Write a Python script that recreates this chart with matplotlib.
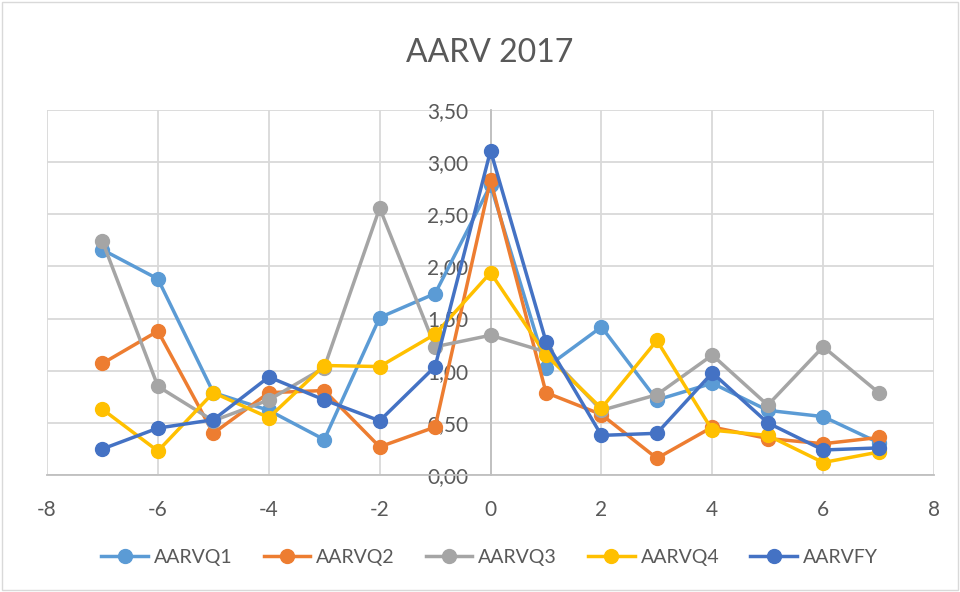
import numpy as np
import matplotlib
matplotlib.use("Agg")
import matplotlib.pyplot as plt
from matplotlib.patches import Rectangle
from matplotlib.ticker import FuncFormatter, MultipleLocator

plt.rcParams["font.family"] = ["Lato", "DejaVu Sans"]
plt.rcParams["axes.unicode_minus"] = False

days = list(range(-7, 8))
aarv_q1 = [2.16, 1.88, 0.79, 0.62, 0.34, 1.51, 1.74, 2.78, 1.03, 1.42, 0.72, 0.88, 0.62, 0.56, 0.31]
aarv_q2 = [1.07, 1.38, 0.40, 0.79, 0.81, 0.27, 0.46, 2.83, 0.79, 0.58, 0.16, 0.46, 0.35, 0.30, 0.36]
aarv_q3 = [2.24, 0.85, 0.52, 0.72, 1.03, 2.56, 1.23, 1.34, 1.18, 0.62, 0.77, 1.15, 0.67, 1.23, 0.79]
aarv_q4 = [0.63, 0.23, 0.79, 0.55, 1.05, 1.04, 1.35, 1.94, 1.15, 0.64, 1.29, 0.43, 0.38, 0.12, 0.22]
aarv_fy = [0.25, 0.45, 0.53, 0.94, 0.72, 0.52, 1.04, 3.11, 1.28, 0.38, 0.40, 0.98, 0.50, 0.24, 0.26]

series = [
    ("AARVQ1", aarv_q1, "#5B9BD5"),
    ("AARVQ2", aarv_q2, "#ED7D31"),
    ("AARVQ3", aarv_q3, "#A5A5A5"),
    ("AARVQ4", aarv_q4, "#FFC000"),
    ("AARVFY", aarv_fy, "#4472C4"),
]

text_color = "#595959"
grid_color = "#D9D9D9"

fig = plt.figure(figsize=(9.6, 5.92), dpi=100)
ax = fig.add_axes([0.049, 0.1976, 0.924, 0.6166])

for name, vals, col in series:
    ax.plot(days, vals, color=col, lw=2.5, marker="o", ms=10, label=name, zorder=3)

ax.set_xlim(-8, 8)
ax.set_ylim(0, 3.5)
ax.xaxis.set_major_locator(MultipleLocator(2))
ax.yaxis.set_major_locator(MultipleLocator(0.5))
ax.yaxis.set_major_formatter(FuncFormatter(lambda v, p: f"{v:.2f}".replace(".", ",")))
ax.grid(True, color=grid_color, lw=1.3, zorder=0)
ax.set_axisbelow(True)

ax.spines["left"].set_position(("data", 0))
for s in ["top", "right"]:
    ax.spines[s].set_visible(False)
ax.spines["left"].set_color("#BFBFBF")
ax.spines["bottom"].set_color("#BFBFBF")
ax.spines["left"].set_linewidth(1.3)
ax.spines["bottom"].set_linewidth(1.3)
ax.tick_params(axis="both", length=0, labelsize=15, colors=text_color)
ax.tick_params(axis="x", pad=18)
ax.tick_params(axis="y", pad=16)

fig.suptitle("AARV 2017", x=0.51, y=0.935, fontsize=23, color=text_color)

leg = fig.legend(loc="center", bbox_to_anchor=(0.51, 0.058), ncol=5, frameon=False,
                 fontsize=14, handlelength=2.4, columnspacing=1.6, handletextpad=0.3)
for t in leg.get_texts():
    t.set_color(text_color)

fig.patches.append(Rectangle((0.002, 0.003), 0.996, 0.994, transform=fig.transFigure,
                             fill=False, edgecolor="#D9D9D9", lw=1))

fig.savefig("out.png", dpi=100)
